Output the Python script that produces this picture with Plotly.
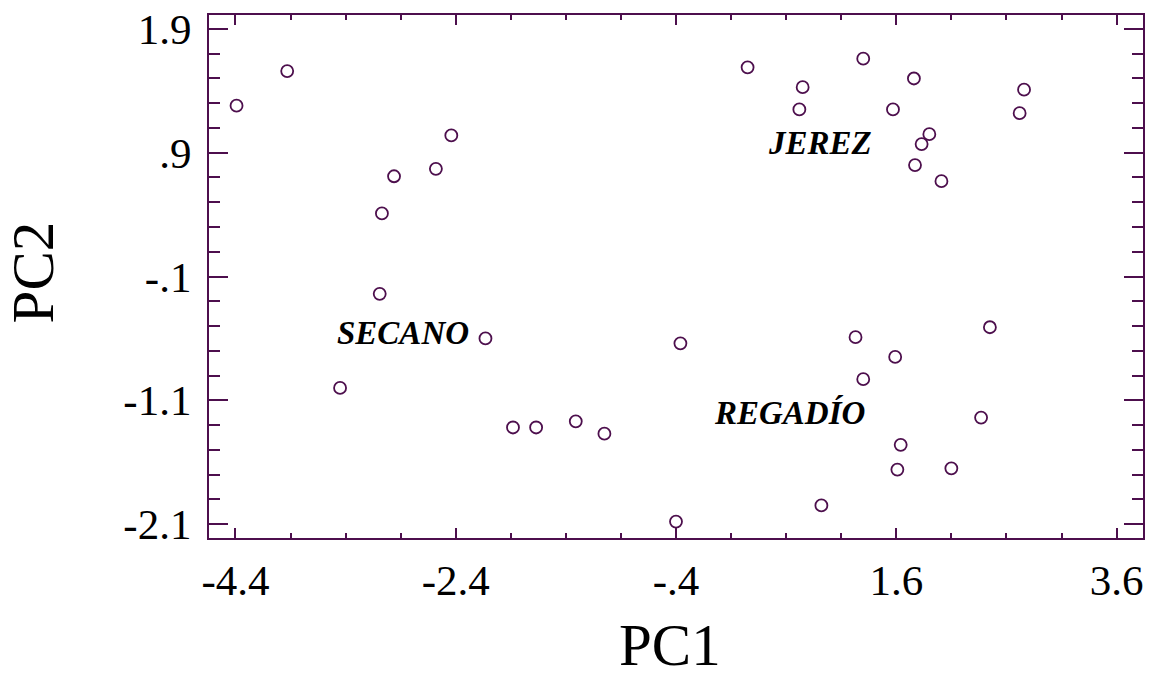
import plotly.graph_objects as go

# PCA scores (PC1, PC2) for each sample
pc1 = [-4.39, -3.93, -2.44, -2.58, -2.96, -3.07, -3.09, -3.45, -2.13,
       -1.88, -1.67, -1.31, -1.05, -0.36, -0.40, 0.92, 1.23, 1.30,
       1.59, 1.64, 1.61, 2.10, 2.37, 2.45,
       0.25, 0.75, 0.72, 1.30, 1.57, 1.76, 1.90, 1.83, 1.77, 2.01, 2.76, 2.72]
pc2 = [1.28, 1.56, 1.04, 0.77, 0.71, 0.41, -0.24, -1.00, -0.60,
       -1.32, -1.32, -1.27, -1.37, -0.64, -2.08, -1.95, -0.59, -0.93,
       -0.75, -1.46, -1.66, -1.65, -1.24, -0.51,
       1.59, 1.43, 1.25, 1.66, 1.25, 1.50, 1.05, 0.97, 0.80, 0.67, 1.41, 1.22]

# Group labels and where they sit in score space
group_names = ["SECANO", "JEREZ", "REGADÍO"]
group_x = [-2.88, 0.91, 0.63]
group_y = [-0.56, 0.98, -1.20]

x_tickvals = [-4.4, -2.4, -0.4, 1.6, 3.6]
x_ticktext = ["-4.4", "-2.4", "-.4", "1.6", "3.6"]
y_tickvals = [1.9, 0.9, -0.1, -1.1, -2.1]
y_ticktext = ["1.9", ".9", "-.1", "-1.1", "-2.1"]

INK = "#4d0f4d"
FONT = "Liberation Serif, Times New Roman, serif"

fig = go.Figure()
fig.add_trace(go.Scatter(
    x=pc1, y=pc2, mode="markers",
    marker=dict(symbol="circle-open", size=12, color=INK, line=dict(width=1.8, color=INK)),
    showlegend=False, cliponaxis=False,
))

for name, gx, gy in zip(group_names, group_x, group_y):
    fig.add_annotation(x=gx, y=gy, xref="x", yref="y", text=f"<b><i>{name}</i></b>",
                       showarrow=False, xanchor="center", yanchor="middle",
                       font=dict(family=FONT, size=33, color="black"))

# Axis titles
fig.add_annotation(x=0.4936, y=-0.205, xref="paper", yref="paper", text="PC1",
                   showarrow=False, xanchor="center", yanchor="middle",
                   font=dict(family=FONT, size=59, color="black"))
fig.add_annotation(x=-0.188, y=0.5086, xref="paper", yref="paper", text="PC2",
                   showarrow=False, xanchor="center", yanchor="middle", textangle=-90,
                   font=dict(family=FONT, size=59, color="black"))

axis_common = dict(
    showgrid=False, zeroline=False, showline=True, linecolor=INK, linewidth=2,
    mirror="allticks", ticks="inside", tickcolor=INK, tickwidth=1.8,
    tickmode="array", tickfont=dict(family=FONT, size=43, color="black"),
)

fig.update_xaxes(**axis_common, range=[-4.64, 3.84], tickvals=x_tickvals, ticktext=x_ticktext,
                 ticklen=10, ticklabelstandoff=3,
                 minor=dict(ticks="inside", ticklen=5, tickcolor=INK, tickwidth=1.8,
                            tickmode="linear", tick0=-4.4, dtick=0.5))
fig.update_yaxes(**axis_common, range=[-2.213, 2.013], tickvals=y_tickvals, ticktext=y_ticktext,
                 ticklen=19, ticklabelstandoff=7,
                 minor=dict(ticks="inside", ticklen=11, tickcolor=INK, tickwidth=1.8,
                            tickmode="linear", tick0=1.9, dtick=0.2))

fig.update_layout(
    width=1150, height=680,
    margin=dict(l=209, r=5, t=15, b=142),
    plot_bgcolor="white", paper_bgcolor="white",
    font=dict(family=FONT, color="black"),
)

fig.write_html("out.html")
